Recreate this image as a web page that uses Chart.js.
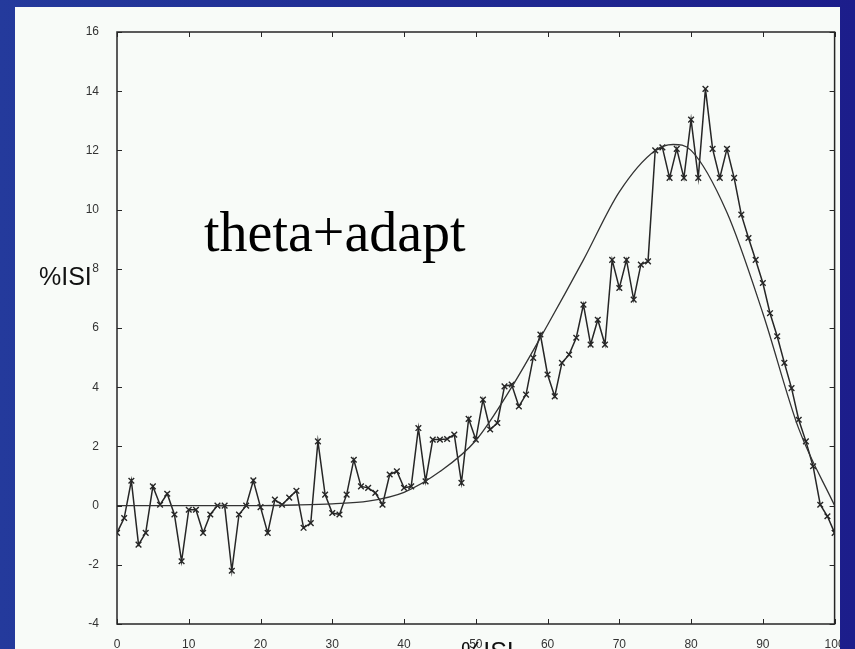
<!DOCTYPE html>
<html>
<head>
<meta charset="utf-8">
<script src="https://cdn.jsdelivr.net/npm/chart.js@4"></script>
<style>
    html, body {
        margin: 0;
        padding: 0;
        width: 855px;
        height: 649px;
        overflow: hidden;
        background: linear-gradient(to right, #243a9c, #1c1d8b);
    }
    #panel {
        position: absolute;
        left: 15px;
        top: 7px;
        width: 825px;
        height: 642px;
        background: #f8fbf8;
    }
    #isiChart {
        position: absolute;
        left: 0;
        top: 0;
    }
    .label {
        position: absolute;
        white-space: nowrap;
        line-height: 1;
        color: #111;
    }
    #note {
        left: 204px;
        top: 200px;
        font: 56px 'Liberation Serif', 'Times New Roman', serif;
        color: #000;
    }
    #yTitle {
        left: 39px;
        top: 262px;
        font: 25px 'Liberation Sans', Arial, sans-serif;
    }
    #xTitle {
        left: 461px;
        top: 637px;
        font: 25px 'Liberation Sans', Arial, sans-serif;
    }
</style>
</head>
<body>
<div id="panel">
    <canvas id="isiChart" width="825" height="642"></canvas>
</div>
<div class="label" id="note">theta+adapt</div>
<div class="label" id="yTitle">%ISI</div>
<div class="label" id="xTitle">%ISI</div>

<script>
// measured points (x marks)
const binX = [0, 1, 2, 3, 4, 5, 6, 7, 8, 9, 10, 11, 12, 13, 14, 15, 16, 17, 18, 19,
    20, 21, 22, 23, 24, 25, 26, 27, 28, 29, 30, 31, 32, 33, 34, 35, 36, 37, 38, 39,
    40, 41, 42, 43, 44, 45, 46, 47, 48, 49, 50, 51, 52, 53, 54, 55, 56, 57, 58, 59,
    60, 61, 62, 63, 64, 65, 66, 67, 68, 69, 70, 71, 72, 73, 74, 75, 76, 77, 78, 79,
    80, 81, 82, 83, 84, 85, 86, 87, 88, 89, 90, 91, 92, 93, 94, 95, 96, 97, 98, 99, 100];
const binY = [-0.92, -0.42, 0.84, -1.32, -0.92, 0.65, 0.03, 0.4, -0.3, -1.88,
    -0.14, -0.14, -0.92, -0.3, 0, 0, -2.2, -0.3, 0, 0.85,
    -0.05, -0.92, 0.2, 0.03, 0.27, 0.5, -0.75, -0.59, 2.17, 0.37,
    -0.25, -0.3, 0.37, 1.55, 0.65, 0.6, 0.43, 0.03, 1.05, 1.16,
    0.6, 0.65, 2.62, 0.82, 2.23, 2.23, 2.25, 2.4, 0.77, 2.93,
    2.23, 3.58, 2.57, 2.79, 4.03, 4.09, 3.35, 3.75, 4.99, 5.78,
    4.43, 3.69, 4.82, 5.1, 5.67, 6.79, 5.44, 6.28, 5.44, 8.3,
    7.35, 8.3, 6.96, 8.14, 8.25, 12.0, 12.1, 11.07, 12.05, 11.07,
    13.04, 11.07, 14.08, 12.05, 11.07, 12.05, 11.07, 9.83, 9.04, 8.3,
    7.52, 6.5, 5.72, 4.82, 3.97, 2.9, 2.17, 1.33, 0.03, -0.36, -0.92];

const fitX = [0, 10, 20, 25, 30, 35, 40, 45, 50, 55, 60, 65, 70, 75, 77.5, 80, 85, 90, 95, 100];
const fitY = [0, 0, 0, 0.02, 0.06, 0.15, 0.45, 1.15, 2.2, 4.0, 6.1, 8.3, 10.6, 12.0, 12.2, 12.0, 9.9, 6.5, 2.6, 0];

const xTicks = [0, 10, 20, 30, 40, 50, 60, 70, 80, 90, 100];
const yTicks = [-4, -2, 0, 2, 4, 6, 8, 10, 12, 14, 16];

const ink = '#262626';

function toPoints(xs, ys) {
    return xs.map((x, i) => ({ x: x, y: ys[i] }));
}

// box around the plot with inward ticks on all sides
const framePlugin = {
    id: 'frame',
    afterDraw(chart) {
        const { ctx, chartArea: a, scales } = chart;
        ctx.save();
        ctx.strokeStyle = ink;
        ctx.lineWidth = 1.5;
        ctx.strokeRect(a.left, a.top, a.right - a.left, a.bottom - a.top);
        ctx.lineWidth = 1;
        const len = 5;
        ctx.beginPath();
        xTicks.forEach(v => {
            const px = Math.round(scales.x.getPixelForValue(v)) + 0.5;
            ctx.moveTo(px, a.bottom); ctx.lineTo(px, a.bottom - len);
            ctx.moveTo(px, a.top); ctx.lineTo(px, a.top + len);
        });
        yTicks.forEach(v => {
            const py = Math.round(scales.y.getPixelForValue(v)) + 0.5;
            ctx.moveTo(a.left, py); ctx.lineTo(a.left + len, py);
            ctx.moveTo(a.right, py); ctx.lineTo(a.right - len, py);
        });
        ctx.stroke();
        ctx.restore();
    }
};

function createIsiChart() {
    const ctx = document.getElementById('isiChart').getContext('2d');
    new Chart(ctx, {
        type: 'scatter',
        data: {
            datasets: [{
                label: 'fit',
                data: toPoints(fitX, fitY),
                showLine: true,
                borderColor: '#333',
                borderWidth: 1.3,
                pointRadius: 0,
                cubicInterpolationMode: 'monotone'
            }, {
                label: 'theta+adapt',
                data: toPoints(binX, binY),
                showLine: true,
                borderColor: ink,
                borderWidth: 1.5,
                pointStyle: 'crossRot',
                pointRadius: 4,
                pointBorderColor: ink,
                pointBorderWidth: 1.4,
                tension: 0
            }]
        },
        options: {
            responsive: false,
            animation: false,
            layout: {
                padding: { left: 0, top: 25, right: 2, bottom: 0 }
            },
            scales: {
                x: {
                    type: 'linear',
                    min: 0,
                    max: 100,
                    grid: { display: false },
                    border: { display: false },
                    afterBuildTicks(scale) {
                        scale.ticks = xTicks.map(v => ({ value: v }));
                    },
                    afterFit(scale) {
                        scale.height = 25;
                        scale.paddingLeft = 0;
                        scale.paddingRight = 0;
                    },
                    ticks: {
                        padding: 5,
                        maxRotation: 0,
                        autoSkip: false,
                        color: '#333',
                        font: { family: "'Liberation Sans', Arial, sans-serif", size: 12 }
                    }
                },
                y: {
                    type: 'linear',
                    min: -4,
                    max: 16,
                    grid: { display: false },
                    border: { display: false },
                    afterBuildTicks(scale) {
                        scale.ticks = yTicks.map(v => ({ value: v }));
                    },
                    afterFit(scale) {
                        scale.width = 102;
                        scale.paddingTop = 0;
                        scale.paddingBottom = 0;
                    },
                    ticks: {
                        padding: 10,
                        autoSkip: false,
                        color: '#333',
                        font: { family: "'Liberation Sans', Arial, sans-serif", size: 12 }
                    }
                }
            },
            plugins: {
                legend: { display: false },
                tooltip: { enabled: false }
            }
        },
        plugins: [framePlugin]
    });
}

createIsiChart();
</script>
</body>
</html>
